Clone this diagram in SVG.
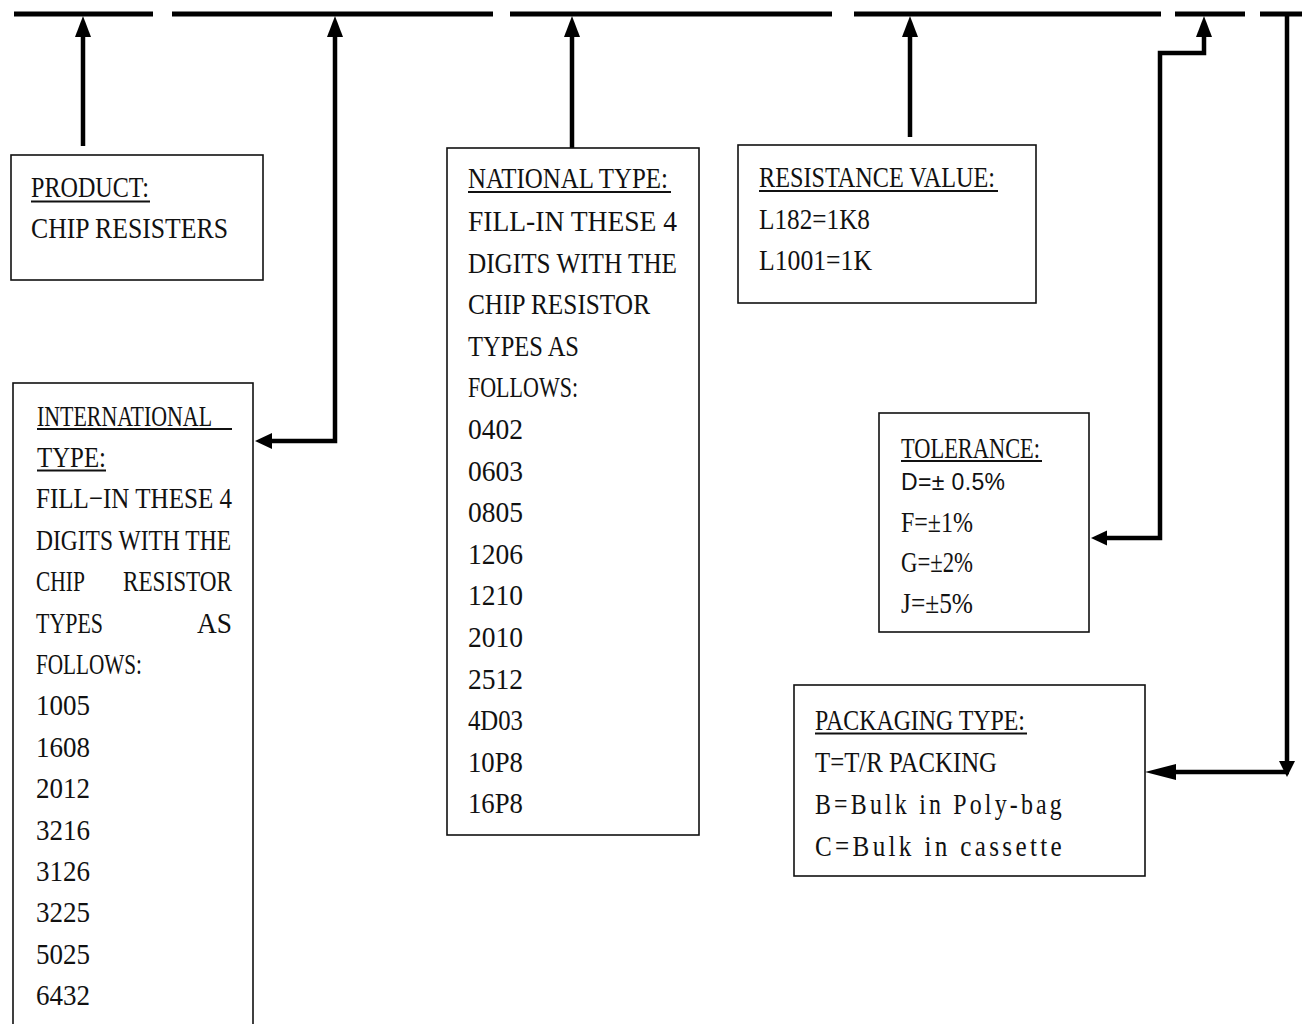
<svg xmlns="http://www.w3.org/2000/svg" width="1316" height="1024" viewBox="0 0 1316 1024">
<style>
.box{fill:#fff;stroke:#111;stroke-width:1.6}
.t{font-family:"Liberation Serif",serif;font-size:30px;fill:#111}
.w{letter-spacing:4px}
.s{font-family:"Liberation Sans",Arial,sans-serif;font-size:23px;fill:#111}
.ul{stroke:#111;stroke-width:2}
.c{fill:none;stroke:#000;stroke-width:4.5}
.top{stroke:#000;stroke-width:5}
.h{fill:#000}
</style>
<rect width="1316" height="1024" fill="#fff"/>
<g id="connectors">
<line class="top" x1="14" y1="14" x2="153" y2="14"/>
<line class="top" x1="172" y1="14" x2="493" y2="14"/>
<line class="top" x1="510" y1="14" x2="832" y2="14"/>
<line class="top" x1="854" y1="14" x2="1161" y2="14"/>
<line class="top" x1="1175" y1="14" x2="1245" y2="14"/>
<line class="top" x1="1260" y1="14" x2="1302" y2="14"/>
<line class="c" x1="83" y1="146" x2="83" y2="34"/>
<polygon class="h" points="83,16 75,37 91,37"/>
<polyline class="c" points="335,34 335,441 268,441"/>
<polygon class="h" points="335,16 327,37 343,37"/>
<polygon class="h" points="255,441 272,433 272,449"/>
<line class="c" x1="572" y1="148" x2="572" y2="34"/>
<polygon class="h" points="572,16 564,37 580,37"/>
<line class="c" x1="910" y1="137" x2="910" y2="34"/>
<polygon class="h" points="910,16 902,37 918,37"/>
<polyline class="c" points="1204,34 1204,53 1160,53 1160,538 1104,538"/>
<polygon class="h" points="1204,16 1196,37 1212,37"/>
<polygon class="h" points="1091,538 1107,530.5 1107,545.5"/>
<polyline class="c" points="1287,14 1287,764"/>
<polygon class="h" points="1287,777 1279,761 1295,761"/>
<line class="c" x1="1289" y1="772" x2="1172" y2="772"/>
<polygon class="h" points="1145,772 1176,764 1176,780"/>
</g>
<g id="product">
<rect class="box" x="11" y="155" width="252" height="125"/>
<text class="t" x="31" y="197" textLength="118" lengthAdjust="spacingAndGlyphs">PRODUCT:</text>
<line class="ul" x1="31" y1="201.5" x2="150" y2="201.5"/>
<text class="t" x="31" y="237.5" textLength="197" lengthAdjust="spacingAndGlyphs">CHIP RESISTERS</text>
</g>
<g id="international-type">
<rect class="box" x="13" y="383" width="240" height="660"/>
<text class="t" x="37" y="425.5" textLength="175" lengthAdjust="spacingAndGlyphs">INTERNATIONAL</text>
<line class="ul" x1="37" y1="429" x2="232" y2="429"/>
<text class="t" x="37" y="467" textLength="69" lengthAdjust="spacingAndGlyphs">TYPE:</text>
<line class="ul" x1="37" y1="470.5" x2="106" y2="470.5"/>
<text class="t" x="36" y="508.3" textLength="196" lengthAdjust="spacingAndGlyphs">FILL−IN THESE 4</text>
<text class="t" x="36" y="549.7" textLength="195" lengthAdjust="spacingAndGlyphs">DIGITS WITH THE</text>
<text class="t" x="36" y="591.1" textLength="49" lengthAdjust="spacingAndGlyphs">CHIP</text>
<text class="t" x="123" y="591.1" textLength="109" lengthAdjust="spacingAndGlyphs">RESISTOR</text>
<text class="t" x="36" y="632.5" textLength="67" lengthAdjust="spacingAndGlyphs">TYPES</text>
<text class="t" x="197" y="632.5" textLength="35" lengthAdjust="spacingAndGlyphs">AS</text>
<text class="t" x="36" y="673.9" textLength="106" lengthAdjust="spacingAndGlyphs">FOLLOWS:</text>
<text class="t" x="36" y="715.3" textLength="54" lengthAdjust="spacingAndGlyphs">1005</text>
<text class="t" x="36" y="756.7" textLength="54" lengthAdjust="spacingAndGlyphs">1608</text>
<text class="t" x="36" y="798.1" textLength="54" lengthAdjust="spacingAndGlyphs">2012</text>
<text class="t" x="36" y="839.5" textLength="54" lengthAdjust="spacingAndGlyphs">3216</text>
<text class="t" x="36" y="880.9" textLength="54" lengthAdjust="spacingAndGlyphs">3126</text>
<text class="t" x="36" y="922.3" textLength="54" lengthAdjust="spacingAndGlyphs">3225</text>
<text class="t" x="36" y="963.7" textLength="54" lengthAdjust="spacingAndGlyphs">5025</text>
<text class="t" x="36" y="1005.1" textLength="54" lengthAdjust="spacingAndGlyphs">6432</text>
</g>
<g id="national-type">
<rect class="box" x="447" y="148" width="252" height="687"/>
<text class="t" x="468" y="188" textLength="200" lengthAdjust="spacingAndGlyphs">NATIONAL TYPE:</text>
<line class="ul" x1="468" y1="192" x2="671" y2="192"/>
<text class="t" x="468" y="231" textLength="209" lengthAdjust="spacingAndGlyphs">FILL-IN THESE 4</text>
<text class="t" x="468" y="272.6" textLength="209" lengthAdjust="spacingAndGlyphs">DIGITS WITH THE</text>
<text class="t" x="468" y="314.2" textLength="182" lengthAdjust="spacingAndGlyphs">CHIP RESISTOR</text>
<text class="t" x="468" y="355.8" textLength="111" lengthAdjust="spacingAndGlyphs">TYPES AS</text>
<text class="t" x="468" y="397.4" textLength="110" lengthAdjust="spacingAndGlyphs">FOLLOWS:</text>
<text class="t" x="468" y="439" textLength="55" lengthAdjust="spacingAndGlyphs">0402</text>
<text class="t" x="468" y="480.6" textLength="55" lengthAdjust="spacingAndGlyphs">0603</text>
<text class="t" x="468" y="522.2" textLength="55" lengthAdjust="spacingAndGlyphs">0805</text>
<text class="t" x="468" y="563.8" textLength="55" lengthAdjust="spacingAndGlyphs">1206</text>
<text class="t" x="468" y="605.4" textLength="55" lengthAdjust="spacingAndGlyphs">1210</text>
<text class="t" x="468" y="647" textLength="55" lengthAdjust="spacingAndGlyphs">2010</text>
<text class="t" x="468" y="688.6" textLength="55" lengthAdjust="spacingAndGlyphs">2512</text>
<text class="t" x="468" y="730.2" textLength="55" lengthAdjust="spacingAndGlyphs">4D03</text>
<text class="t" x="468" y="771.8" textLength="55" lengthAdjust="spacingAndGlyphs">10P8</text>
<text class="t" x="468" y="813.4" textLength="55" lengthAdjust="spacingAndGlyphs">16P8</text>
</g>
<g id="resistance-value">
<rect class="box" x="738" y="145" width="298" height="158"/>
<text class="t" x="759" y="187" textLength="236" lengthAdjust="spacingAndGlyphs">RESISTANCE VALUE:</text>
<line class="ul" x1="759" y1="191" x2="998" y2="191"/>
<text class="t" x="759" y="229" textLength="111" lengthAdjust="spacingAndGlyphs">L182=1K8</text>
<text class="t" x="759" y="269.5" textLength="113" lengthAdjust="spacingAndGlyphs">L1001=1K</text>
</g>
<g id="tolerance">
<rect class="box" x="879" y="413" width="210" height="219"/>
<text class="t" x="901" y="458" textLength="139" lengthAdjust="spacingAndGlyphs">TOLERANCE:</text>
<line class="ul" x1="901" y1="461" x2="1042" y2="461"/>
<text class="s" x="901" y="490" textLength="104" lengthAdjust="spacing">D=± 0.5%</text>
<text class="t" x="901" y="531.5" textLength="72" lengthAdjust="spacingAndGlyphs">F=±1%</text>
<text class="t" x="901" y="572" textLength="72" lengthAdjust="spacingAndGlyphs">G=±2%</text>
<text class="t" x="901" y="613" textLength="72" lengthAdjust="spacingAndGlyphs">J=±5%</text>
</g>
<g id="packaging-type">
<rect class="box" x="794" y="685" width="351" height="191"/>
<text class="t" x="815" y="730" textLength="210" lengthAdjust="spacingAndGlyphs">PACKAGING TYPE:</text>
<line class="ul" x1="815" y1="733.5" x2="1027" y2="733.5"/>
<text class="t" x="815" y="772" textLength="182" lengthAdjust="spacingAndGlyphs">T=T/R PACKING</text>
<text class="t w" x="815" y="814" textLength="250" lengthAdjust="spacingAndGlyphs">B=Bulk in Poly-bag</text>
<text class="t w" x="815" y="856" textLength="250" lengthAdjust="spacingAndGlyphs">C=Bulk in cassette</text>
</g>
</svg>
